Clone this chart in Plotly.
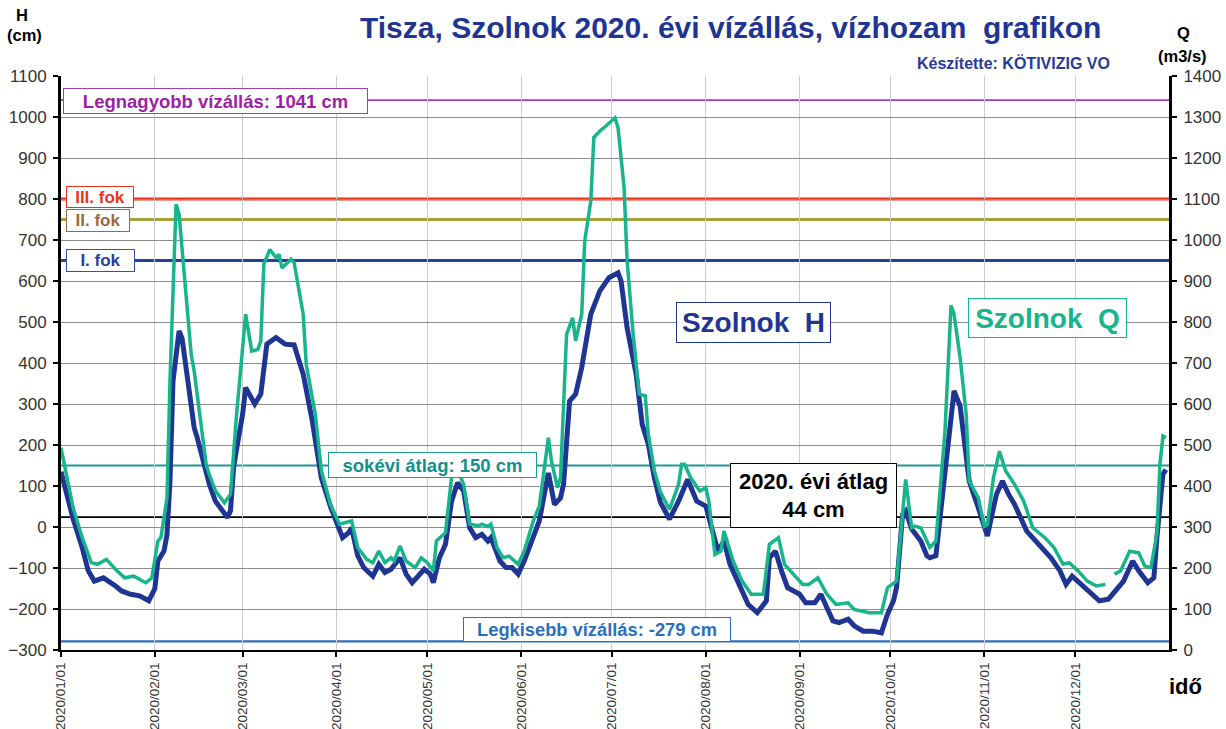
import datetime as dt
import plotly.graph_objects as go

# ---------------- data ----------------
base_date = dt.date(2020, 1, 1)

h_days = [0, 4, 7, 9, 11, 14, 18, 20, 23, 26, 29, 30, 31, 32, 34, 35, 36, 37, 39, 40, 42, 44, 45, 47, 49,
          51, 53, 55, 56, 57, 58, 60, 61, 64, 66, 68, 71, 73, 74, 77, 80, 83, 86, 89, 92, 93, 95, 96, 98,
          100, 103, 105, 107, 109, 112, 114, 116, 120, 122, 123, 125, 127, 129, 131, 133, 135, 137, 139,
          141, 142, 145, 147, 149, 151, 153, 156, 158, 161, 163, 165, 166, 168, 170, 172, 175, 178, 181,
          184, 185, 187, 190, 192, 194, 196, 198, 201, 204, 207, 210, 213, 214, 217, 219, 221, 224, 227,
          230, 233, 234, 236, 238, 240, 244, 246, 249, 251, 253, 255, 257, 260, 262, 265, 268, 271, 273,
          275, 276, 278, 279, 281, 284, 286, 287, 289, 292, 294, 295, 297, 300, 303, 305, 306, 309, 311,
          313, 315, 319, 322, 325, 327, 330, 332, 334, 337, 340, 343, 346, 348, 351, 354, 356, 359, 361,
          362, 364, 365]
h_values = [135, 20, -50, -107, -132, -124, -144, -156, -164, -168, -180, -165, -150, -83, -59, -20, 112, 356,
            478, 460, 340, 242, 218, 160, 104, 63, 44, 23, 40, 145, 190, 275, 340, 300, 324, 446, 462, 453,
            446, 444, 373, 259, 120, 50, -2, -26, -14, -2, -70, -99, -120, -91, -111, -103, -75, -115, -136,
            -103, -115, -136, -75, -42, 63, 108, 88, -2, -26, -18, -34, -26, -83, -99, -99, -115, -83, -26,
            15, 132, 55, 71, 104, 307, 324, 389, 519, 576, 608, 620, 600, 486, 372, 250, 202, 120, 60, 19,
            63, 116, 63, 51, 23, -59, -34, -91, -140, -189, -209, -180, -75, -59, -107, -148, -164, -185,
            -185, -164, -197, -229, -233, -225, -241, -254, -254, -258, -213, -180, -148, 31, 39, -5, -34,
            -70, -75, -70, 133, 283, 332, 295, 112, 47, -2, -22, 80, 112, 80, 55, -10, -34, -59, -75, -107,
            -140, -120, -140, -164, -180, -176, -160, -132, -83, -107, -136, -124, -26, 129, 140]

q_days = [0, 4, 7, 10, 12, 15, 18, 21, 24, 28, 30, 32, 33, 35, 36, 38, 39, 41, 43, 44, 46, 48, 49, 51, 54,
          56, 58, 60, 61, 63, 65, 66, 67, 69, 71, 72, 73, 76, 77, 80, 81, 84, 86, 89, 92, 94, 96, 98, 101,
          103, 105, 107, 109, 110, 112, 114, 117, 119, 121, 123, 124, 127, 129, 131, 133, 135, 138, 139,
          141, 142, 144, 146, 148, 151, 153, 156, 158, 161, 162, 164, 165, 167, 169, 170, 172, 173, 175,
          176, 178, 180, 183, 184, 186, 187, 189, 191, 193, 194, 196, 198, 201, 204, 205, 206, 208, 211,
          213, 214, 216, 218, 219, 222, 225, 228, 232, 234, 237, 239, 242, 245, 247, 250, 253, 256, 260,
          262, 267, 271, 273, 276, 277, 279, 281, 282, 284, 287, 289, 291, 292, 294, 295, 297, 299, 300,
          303, 305, 306, 308, 310, 312, 315, 318, 321, 325, 328, 331, 333, 336, 339, 342, 345, 346, 348,
          350, 353, 356, 358, 360, 362, 363, 364, 365]
q_values = [493, 347, 274, 213, 209, 221, 197, 176, 180, 164, 176, 266, 274, 371, 656, 1087, 1063, 900, 721,
            680, 570, 450, 428, 388, 359, 380, 575, 754, 819, 729, 733, 754, 941, 977, 957, 965, 932, 953,
            945, 819, 697, 575, 437, 355, 307, 311, 315, 250, 221, 213, 241, 213, 225, 217, 254, 217, 201,
            225, 213, 193, 266, 286, 420, 440, 404, 307, 303, 307, 301, 307, 250, 225, 229, 209, 241, 315,
            351, 518, 461, 396, 420, 770, 810, 754, 819, 998, 1095, 1250, 1266, 1278, 1298, 1274, 1128,
            949, 770, 624, 620, 526, 437, 385, 343, 404, 453, 453, 420, 388, 396, 363, 233, 241, 290, 217,
            168, 136, 136, 258, 274, 209, 185, 160, 160, 176, 136, 111, 115, 99, 91, 91, 152, 168, 250,
            416, 298, 302, 298, 250, 266, 453, 534, 841, 819, 713, 575, 412, 371, 302, 306, 420, 485, 437,
            404, 363, 298, 274, 250, 209, 213, 193, 168, 156, 160, None, 185, 193, 241, 237, 205, 201, 282,
            453, 522, 518]

# reference levels (cm)
level_names = ["Legnagyobb vízállás: 1041 cm", "III. fok", "II. fok", "I. fok",
               "sokévi átlag: 150 cm", "2020. évi átlag<br>44 cm", "Legkisebb vízállás: -279 cm"]
level_values = [1041, 800, 750, 650, 150, 24, -279]

month_ticks = [dt.date(2020, m, 1) for m in range(1, 13)]
month_labels = [d.strftime("%Y/%m/%d") for d in month_ticks]

# ---------------- styling ----------------
FONT = "Liberation Sans, Arial, sans-serif"
H_COLOR = "#1F3593"
Q_COLOR = "#16B58C"
level_line_colors = ["#A43BB8", "#E8341C", "#A3A23A", "#23409C", "#1E9A95", "#000000", "#2C6FBA"]
level_line_widths = [1.8, 3, 3, 3, 1.8, 1.8, 2.2]

W, H = 1226, 729
L, R, T, B = 61, 1169, 75.7, 649.6


def px(x):
    return (x - L) / (R - L)


def py(y):
    return (B - y) / (B - T)


h_dates = [base_date + dt.timedelta(days=d) for d in h_days]
q_dates = [base_date + dt.timedelta(days=d) for d in q_days]

fig = go.Figure()
fig.add_trace(go.Scatter(x=h_dates, y=h_values, mode="lines", name="Szolnok H",
                         line=dict(color=H_COLOR, width=5), yaxis="y"))
fig.add_trace(go.Scatter(x=q_dates, y=q_values, mode="lines", name="Szolnok Q",
                         line=dict(color=Q_COLOR, width=3.5), yaxis="y2", connectgaps=False))

shapes = []
for v, c, w in zip(level_values, level_line_colors, level_line_widths):
    shapes.append(dict(type="line", xref="paper", yref="y", x0=0, x1=1, y0=v, y1=v,
                       line=dict(color=c, width=w), layer="between"))

annotations = []


def box(text, cx0, cx1, cy0, cy1, color, border, size, bold=True):
    t = f"<b>{text}</b>" if bold else text
    annotations.append(dict(text=t, xref="paper", yref="paper",
                            x=px((cx0 + cx1) / 2), y=py((cy0 + cy1) / 2),
                            xanchor="center", yanchor="middle", showarrow=False,
                            width=cx1 - cx0 - 4, height=cy1 - cy0 - 4, align="center", valign="middle",
                            font=dict(family=FONT, size=size, color=color),
                            bgcolor="white", bordercolor=border, borderwidth=1, borderpad=1))


box(level_names[0], 63, 368, 88, 114, "#9C1FA6", "#A43BB8", 18.5)
box(level_names[1], 66, 134, 186, 208, "#E8341C", "#E8341C", 17)
box(level_names[2], 66, 130, 209, 232, "#A0673A", "#A0673A", 17)
box(level_names[3], 66, 135, 249, 272, "#23409C", "#3550A8", 17)
box(level_names[4], 328, 537, 452, 478, "#12918A", "#1E9A95", 18.5)
box(level_names[5], 730, 897, 463, 528, "#000000", "#000000", 22)
box(level_names[6], 463, 731, 617, 642, "#2C6FBA", "#2C6FBA", 18.3)
box("Szolnok&nbsp;&nbsp;H", 676, 831, 302, 343, H_COLOR, H_COLOR, 28)
box("Szolnok&nbsp;&nbsp;Q", 968, 1127, 298, 338, Q_COLOR, Q_COLOR, 28)


def label(text, x, y, size, color, anchor="center"):
    annotations.append(dict(text=text, xref="paper", yref="paper", x=px(x), y=py(y),
                            xanchor=anchor, yanchor="middle", showarrow=False,
                            font=dict(family=FONT, size=size, color=color)))


label("<b>Tisza, Szolnok 2020. évi vízállás, vízhozam&nbsp;&nbsp;grafikon</b>", 730, 27, 30, "#1F3593")
label("<b>Készítette: KÖTIVIZIG VO</b>", 1013, 63, 16, "#2A3A9A")
label("<b>H</b>", 22, 15, 16.5, "#000000")
label("<b>(cm)</b>", 24, 35, 16.5, "#000000")
label("<b>Q</b>", 1183, 33, 16.5, "#000000")
label("<b>(m3/s)</b>", 1182, 56, 16.5, "#000000")
label("<b>idő</b>", 1185, 686, 22, "#000000")

fig.update_layout(
    width=W, height=H,
    margin=dict(l=L, r=W - R, t=T, b=H - B, autoexpand=False),
    paper_bgcolor="white", plot_bgcolor="white",
    showlegend=False,
    font=dict(family=FONT, color="#333333"),
    shapes=shapes, annotations=annotations,
    xaxis=dict(type="date", range=["2020-01-01", "2021-01-01"], automargin=False,
               tickmode="array", tickvals=month_ticks, ticktext=month_labels,
               tickangle=-90, tickfont=dict(size=13.5, color="#333333", family=FONT),
               showgrid=True, gridcolor="#cccccc", gridwidth=1.3,
               showline=True, linecolor="black", linewidth=2,
               ticks="outside", ticklen=5, tickcolor="black", tickwidth=1.5, zeroline=False),
    yaxis=dict(range=[-300, 1100], dtick=100, tick0=0, automargin=False,
               tickfont=dict(size=17, color="#333333", family=FONT),
               showgrid=True, gridcolor="#8c8c8c", gridwidth=1.3, zeroline=False,
               showline=True, linecolor="black", linewidth=3,
               ticks="outside", ticklen=5, tickcolor="black", tickwidth=2, ticklabelstandoff=3),
    yaxis2=dict(range=[0, 1400], dtick=100, tick0=0, overlaying="y", side="right", automargin=False,
                tickfont=dict(size=17, color="#333333", family=FONT),
                showgrid=False, zeroline=False,
                showline=True, linecolor="black", linewidth=3,
                ticks="outside", ticklen=5, tickcolor="black", tickwidth=2, ticklabelstandoff=3),
)

fig.write_html("out.html", config={"displayModeBar": False},
               post_script="document.body.style.margin='0';document.body.style.overflow='hidden';")
